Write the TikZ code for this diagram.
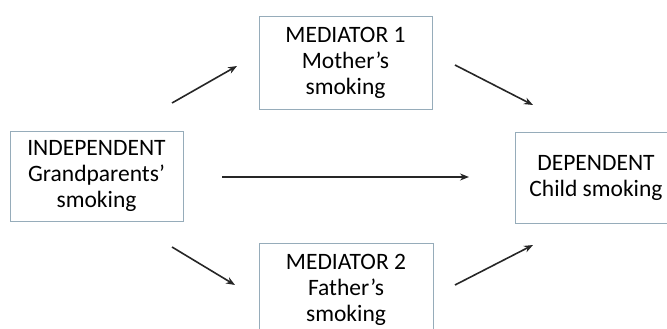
\documentclass[tikz,border=0pt]{standalone}
\usepackage{fontspec}
\setmainfont{Carlito}
\usetikzlibrary{arrows.meta}

\definecolor{boxline}{RGB}{150,172,186}

\tikzset{
  varbox/.style={draw=boxline, line width=0.9pt, fill=white, align=center,
    inner sep=0pt, font=\fontsize{23.5}{26}\selectfont},
  path/.style={-{Stealth[length=9pt,width=7pt]}, line width=1.6pt, black!85}
}

\begin{document}
\begin{tikzpicture}[x=1pt,y=-1pt]
\clip (0,0) rectangle (667,329);
\useasboundingbox (0,0) rectangle (667,329);
% les boîtes
\node[varbox, minimum width=173pt, minimum height=90pt] (indep) at (96.5,176) {INDEPENDENT\\Grandparents’\\smoking};
\node[varbox, minimum width=173pt, minimum height=93pt] (med1) at (345.5,62.5) {MEDIATOR 1\\Mother’s\\smoking};
\node[varbox, minimum width=174pt, minimum height=93pt] (med2) at (346,289.5) {MEDIATOR 2\\Father’s\\smoking};
\node[varbox, minimum width=162pt, minimum height=91pt] (dep) at (596,177.5) {DEPENDENT\\Child smoking};
% extrémités des flèches
\coordinate (i1) at (172,103);
\coordinate (m1in) at (237,66);
\coordinate (m1out) at (455,65);
\coordinate (d1) at (533,105);
\coordinate (i0) at (222,177);
\coordinate (d0) at (469,177);
\coordinate (i2) at (172,247);
\coordinate (m2in) at (235,285);
\coordinate (m2out) at (455,285);
\coordinate (d2) at (533,245);
\draw[path] (i1) -- (m1in);
\draw[path] (m1out) -- (d1);
\draw[path] (i0) -- (d0);
\draw[path] (i2) -- (m2in);
\draw[path] (m2out) -- (d2);
\end{tikzpicture}
\end{document}
